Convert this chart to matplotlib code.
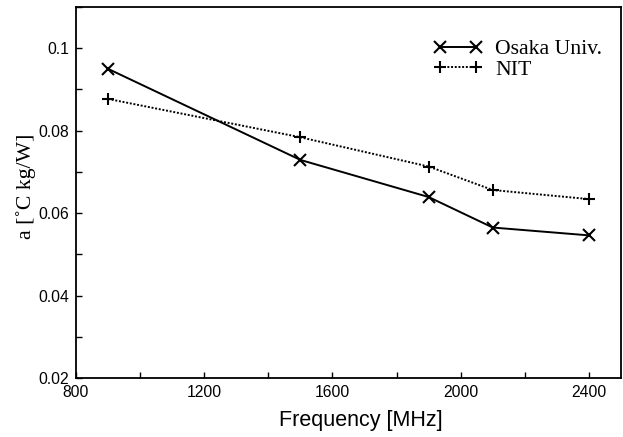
import numpy as np
import matplotlib.pyplot as plt
from matplotlib.ticker import MultipleLocator

freq = [900, 1500, 1900, 2100, 2400]
osaka = [0.0950, 0.0729, 0.0639, 0.0565, 0.0546]
nit = [0.0877, 0.0784, 0.0713, 0.0656, 0.0634]

W, H = 623, 437
fig = plt.figure(figsize=(W / 100, H / 100), dpi=100)
ax = fig.add_axes([76 / W, 59 / H, 545 / W, 371 / H])

ax.plot(freq, osaka, color='k', lw=1.4, marker='x', ms=8, mew=1.5, label='Osaka Univ.')
ax.plot(freq, nit, color='k', lw=1.4, ls=(0, (1, 0.9)), marker='+', ms=8.5, mew=1.5, label='NIT')

ax.set_xlim(800, 2500)
ax.set_ylim(0.02, 0.11)
ax.set_xticks([800, 1200, 1600, 2000, 2400])
ax.set_yticks([0.02, 0.04, 0.06, 0.08, 0.1])
ax.set_yticklabels(['0.02', '0.04', '0.06', '0.08', '0.1'])
ax.xaxis.set_minor_locator(MultipleLocator(200))
ax.yaxis.set_minor_locator(MultipleLocator(0.01))
ax.tick_params(which='both', direction='in', labelsize=11.3, top=False, right=False,
               length=4, width=1, pad=5)
for lab in ax.get_xticklabels() + ax.get_yticklabels():
    lab.set_family('Liberation Sans')
for s in ax.spines.values():
    s.set_linewidth(1.3)

ax.set_xlabel('Frequency [MHz]', family='Liberation Sans', fontsize=15.5)
ax.xaxis.set_label_coords(0.523, -0.086)
ax.set_ylabel('a [\u02daC kg/W]', family='Liberation Serif', fontsize=15.7)
ax.yaxis.set_label_coords(-0.092, 0.5175)
ax.yaxis.label.set_va('center')

ax.legend(loc='upper left', bbox_to_anchor=(433 / W, 1 - 39 / H), bbox_transform=fig.transFigure,
          frameon=False, numpoints=2, borderpad=0, borderaxespad=0,
          handlelength=2.25, prop={'family': 'Liberation Serif', 'size': 15.7},
          labelspacing=0.0, handletextpad=0.6)

plt.savefig('out.png', dpi=100)
